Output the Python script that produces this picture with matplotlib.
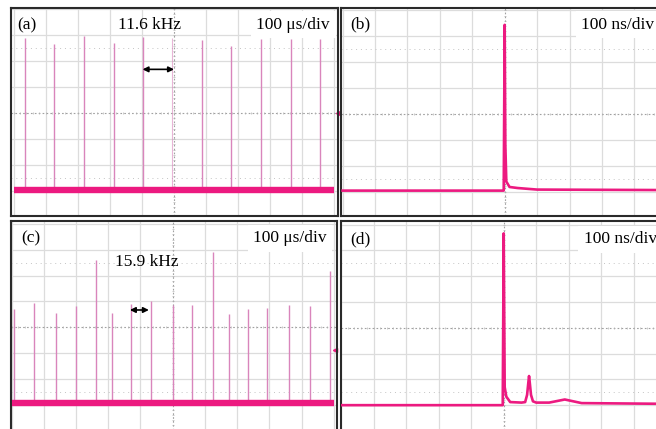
import numpy as np
import matplotlib.pyplot as plt

W, H = 656, 429

# (a) 11.6 kHz pulse train, 100 us/div (positions / levels in divisions)
A_T = [-4.64, -3.73, -2.79, -1.88, -0.98, 0.86, 1.78, 2.71, 3.64, 4.54]
A_TOP = [2.88, 2.67, 2.97, 2.69, 2.92, 2.82, 2.60, 2.85, 2.85, 2.85]
A_TRIG_T, A_TRIG_TOP = -0.06, 2.90
A_BASE = -2.95

# (c) 15.9 kHz pulse train
C_T = [-4.93, -4.32, -3.63, -3.01, -2.37, -1.89, -1.30, -0.67, 0.0,
       0.61, 1.24, 1.76, 2.33, 2.94, 3.62, 4.25, 4.89]
C_TOP = [0.70, 0.93, 0.57, 0.83, 2.61, 0.57, 0.89, 1.02, 0.86,
         0.88, 2.90, 0.52, 0.70, 0.75, 0.88, 0.83, 2.19]
C_BASE = -2.95

# (b) single pulse, 100 ns/div
B_T = [-5.0, -0.03, 0.0, 0.02, 0.05, 0.15, 0.4, 1.0, 5.2]
B_V = [-2.96, -2.96, 3.44, -1.2, -2.61, -2.82, -2.86, -2.92, -2.94]

# (d) pulse with satellite, 100 ns/div
D_T = [-5.0, -0.03, 0.0, 0.03, 0.08, 0.2, 0.55, 0.66, 0.72, 0.76, 0.78,
       0.80, 0.84, 0.90, 1.0, 1.4, 1.88, 2.4, 5.2]
D_V = [-3.0, -3.0, 3.66, -2.3, -2.67, -2.88, -2.9, -2.88, -2.6, -2.1, -1.87,
       -2.1, -2.6, -2.85, -2.9, -2.9, -2.78, -2.92, -2.95]

PINK = "#ec1a80"
PULSE = "#d985bc"
plt.rcParams["font.family"] = ["Liberation Serif", "DejaVu Serif"]


def screen(fig, box, xlim, ylim):
    l, t, r, b = box
    ax = fig.add_axes([l / W, 1 - b / H, (r - l) / W, (b - t) / H])
    ax.set_xlim(*xlim)
    ax.set_ylim(*ylim)
    ax.set_xticks([])
    ax.set_yticks([])
    for s in ax.spines.values():
        s.set_color("#2a2a2a")
        s.set_linewidth(1.5)
    for v in range(-5, 6):
        if v != 0:
            ax.axvline(v, color="#dcdcdc", lw=0.9, zorder=0)
    for v in range(-4, 5):
        if v != 0:
            ax.axhline(v, color="#dcdcdc", lw=0.9, zorder=0)
    for v in (-2.5, 2.5):
        ax.axhline(v, color="#c4c4c4", lw=0.7, ls=(0, (1, 4)), zorder=0)
    ax.axhline(0, color="#a0a0a0", lw=0.8, ls=(0, (1.5, 2)), zorder=0)
    ax.axvline(0, color="#a0a0a0", lw=0.8, ls=(0, (1.5, 2)), zorder=0)
    ticks = np.arange(-5, 5.01, 0.2)
    ax.plot(ticks, np.zeros_like(ticks), ls="none", marker="|", ms=2,
            mew=0.5, color="#b4b4b4", zorder=0)
    ticks = np.arange(-4, 4.01, 0.2)
    ax.plot(np.zeros_like(ticks), ticks, ls="none", marker="_", ms=2,
            mew=0.5, color="#b4b4b4", zorder=0)
    return ax


def label(ax, x, y, s, ha="left", box=False):
    kw = dict(fontsize=12.5, ha=ha, va="center", zorder=5)
    if box:
        kw["bbox"] = dict(facecolor="white", edgecolor="none", pad=4)
    ax.text(x, y, s, **kw)


def arrow(ax, x0, x1, y):
    ax.annotate("", xy=(x1, y), xytext=(x0, y), zorder=6,
                arrowprops=dict(arrowstyle="<|-|>", color="black", lw=1.2,
                                mutation_scale=8, shrinkA=0, shrinkB=0))


fig = plt.figure(figsize=(W / 100, H / 100), dpi=100)

# (a)
ax = screen(fig, (11, 8, 338, 216), (-5.08, 5.11), (-3.95, 4.05))
ax.vlines(A_T, A_BASE, A_TOP, color=PULSE, lw=1.0, zorder=2)
ax.vlines(A_TRIG_T, A_BASE, A_TRIG_TOP, color=PULSE, lw=0.8, alpha=0.6, zorder=2)
ax.hlines(A_BASE, -5, 5, color=PINK, lw=4.6, zorder=3)
ax.plot(5.1, 0, marker="<", ms=3, color=PINK, clip_on=False)
label(ax, -4.9, 3.40, "(a)")
label(ax, -1.74, 3.40, "11.6 kHz")
label(ax, 4.86, 3.40, "100 \u03bcs/div", ha="right", box=True)
arrow(ax, -0.98, 0.0, 1.69)

# (b)
ax = screen(fig, (341, 8, 670, 216), (-5.05, 5.10), (-3.94, 4.09))
ax.plot(B_T, B_V, color=PINK, lw=1.9, zorder=3)
label(ax, -4.78, 3.44, "(b)")
label(ax, 2.36, 3.44, "100 ns/div", box=True)

# (c)
ax = screen(fig, (11, 221, 337, 440), (-5.02, 5.10), (-4.37, 4.12))
ax.vlines(C_T, C_BASE, C_TOP, color=PULSE, lw=1.0, zorder=2)
ax.hlines(C_BASE, -5, 5, color=PINK, lw=4.6, zorder=3)
ax.plot(5.05, -0.88, marker="<", ms=3, color=PINK, clip_on=False)
label(ax, -4.69, 3.45, "(c)")
label(ax, -1.79, 2.54, "15.9 kHz")
label(ax, 4.78, 3.45, "100 \u03bcs/div", ha="right", box=True)
arrow(ax, -1.33, -0.74, 0.67)

# (d)
ax = screen(fig, (341, 221, 670, 440), (-5.01, 5.12), (-4.35, 4.14))
ax.plot(D_T, D_V, color=PINK, lw=1.9, zorder=3)
label(ax, -4.71, 3.44, "(d)")
label(ax, 2.46, 3.44, "100 ns/div", box=True)

fig.savefig("out.png", dpi=100)
